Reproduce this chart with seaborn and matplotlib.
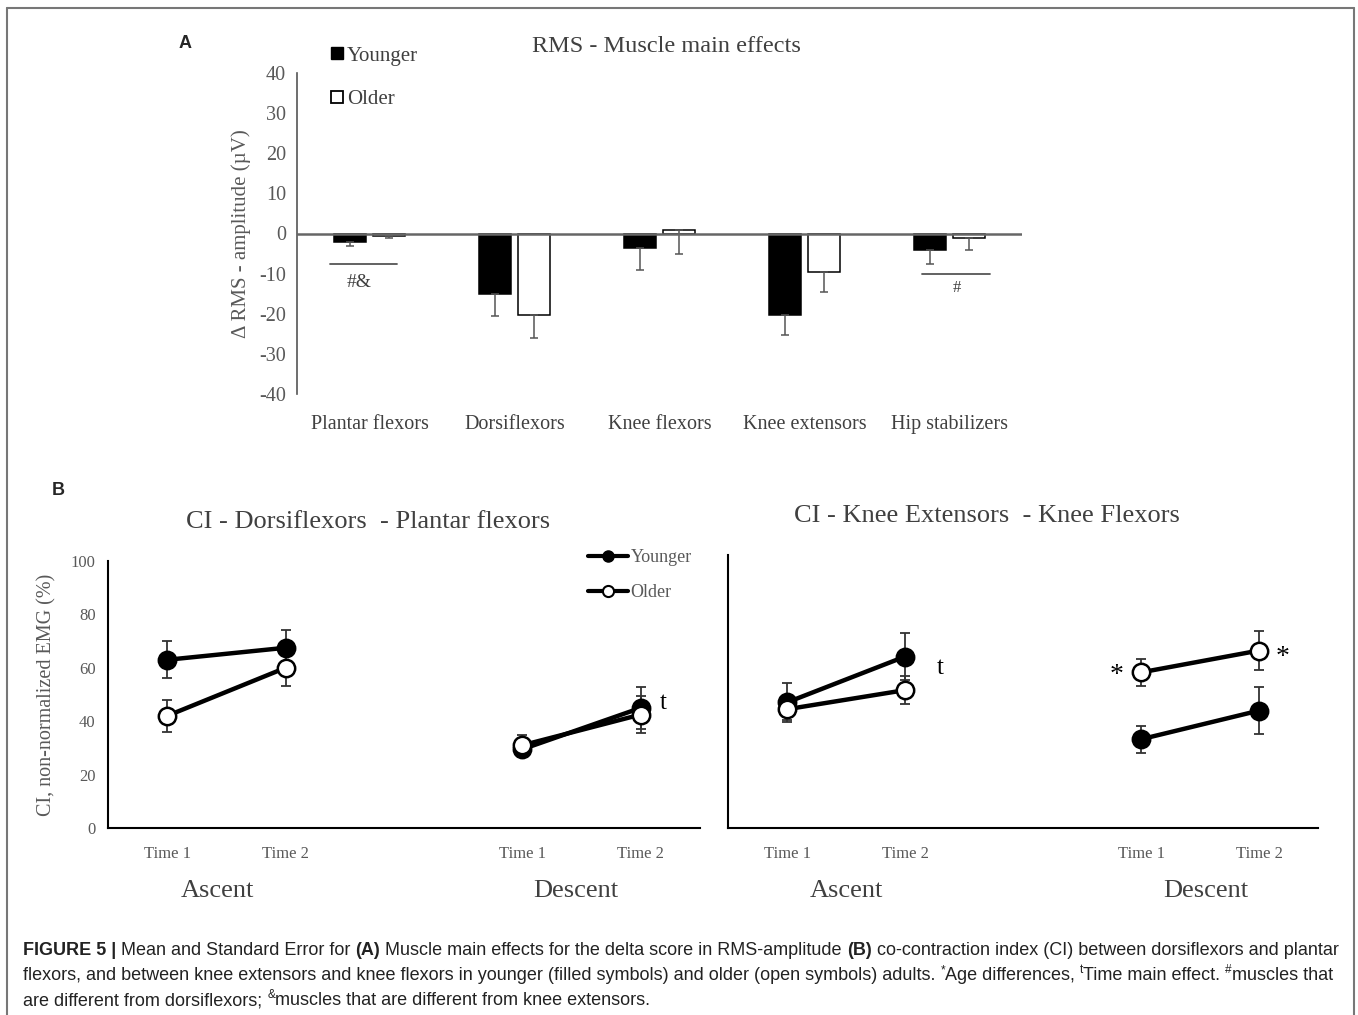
import matplotlib
matplotlib.use('Agg')
import pandas as pd
import matplotlib.pyplot as plt
import matplotlib.transforms as mtransforms
from matplotlib.lines import Line2D
import seaborn as sns

W, H = 1358, 1015

# ---- Panel A: delta RMS amplitude by muscle ----
muscles = ['Plantar flexors', 'Dorsiflexors', 'Knee flexors', 'Knee extensors', 'Hip stabilizers']
rms_younger = [-2.0, -15.0, -3.5, -20.2, -4.2]
rms_older = [-0.5, -20.2, 0.8, -9.6, -1.0]
rms_err_younger = [1.0, 5.5, 5.5, 5.0, 3.5]
rms_err_older = [0.5, 5.8, 5.8, 5.0, 3.0]

# ---- Panel B: co-contraction index (Ascent T1, T2, Descent T1, T2) ----
slot_labels = ['Time 1', 'Time 2', '', 'Time 1', 'Time 2']
phases = ['Ascent', 'Descent']
ci_dp_younger = [63.0, 67.5, 29.5, 45.0]
ci_dp_older = [42.0, 60.0, 31.0, 42.5]
ci_dp_err_younger = [7.0, 6.5, 3.0, 7.8]
ci_dp_err_older = [6.0, 7.0, 4.0, 7.0]
ci_kk_younger = [46.0, 62.8, 32.5, 43.0]
ci_kk_older = [43.5, 50.5, 57.0, 65.0]
ci_kk_err_younger = [7.0, 8.5, 5.0, 8.5]
ci_kk_err_older = [4.0, 5.0, 5.0, 7.0]

sns.set_style('white')
plt.rcParams['font.family'] = ['Liberation Serif', 'DejaVu Serif']
plt.rcParams['axes.unicode_minus'] = False

fig = plt.figure(figsize=(W / 100, H / 100), dpi=100)


def fx(x):
    return x / W


def fy(y):
    return 1 - y / H


GREY = '#595959'
DARK = '#404040'

# ---------------- Panel A ----------------
axA = fig.add_axes([fx(297), fy(394), 725 / W, 321 / H])
df_a = pd.DataFrame({
    'muscle': muscles * 2,
    'group': ['Younger'] * len(muscles) + ['Older'] * len(muscles),
    'value': rms_younger + rms_older,
})
sns.barplot(data=df_a, x='muscle', y='value', hue='group', order=muscles,
            hue_order=['Younger', 'Older'],
            palette={'Younger': 'black', 'Older': 'white'},
            edgecolor='black', linewidth=1.1, width=0.55, gap=0.2,
            errorbar=None, legend=False, ax=axA)

for cont, vals, errs in zip(axA.containers, [rms_younger, rms_older],
                            [rms_err_younger, rms_err_older]):
    xs = [b.get_x() + b.get_width() / 2 for b in cont]
    axA.errorbar(xs, vals, yerr=[errs, [0] * len(errs)], fmt='none',
                 ecolor='#555555', elinewidth=1.1, capsize=3, capthick=1.1, zorder=1)

axA.axhline(0, color='#666666', lw=1.8, zorder=3)
axA.set_xlim(-0.5, 4.5)
axA.set_ylim(-40, 40)
axA.set_yticks(range(-40, 41, 10))
for s in ['top', 'right', 'bottom']:
    axA.spines[s].set_visible(False)
axA.spines['left'].set_color('#555555')
axA.spines['left'].set_linewidth(1.2)
axA.tick_params(axis='y', direction='out', length=5, width=1.2, color='#555555',
                labelsize=14.5, labelcolor=GREY, pad=3)
axA.tick_params(axis='x', length=0, pad=15, labelsize=14.5, labelcolor=DARK)
axA.set_xlabel('')
axA.set_ylabel('Δ RMS - amplitude (µV)', fontsize=15, color=GREY, labelpad=6)

# significance bars
axA.plot([-0.27, 0.19], [-7.7, -7.7], color='#555555', lw=1.3)
axA.text(-0.07, -12.2, '#&', ha='center', va='center', fontsize=14, color=DARK)
axA.plot([3.81, 4.28], [-10.0, -10.0], color='#555555', lw=1.3)
axA.text(4.05, -13.7, '#', ha='center', va='center', fontsize=12, color=DARK)

fig.text(fx(666), fy(47), 'RMS - Muscle main effects', ha='center', va='center',
         fontsize=17.5, color=DARK)
fig.text(fx(185), fy(44), 'A', ha='center', va='center', fontsize=13,
         fontweight='bold', family='Liberation Sans')

hA = [Line2D([], [], ls='none', marker='s', markersize=9, mfc='black', mec='black'),
      Line2D([], [], ls='none', marker='s', markersize=9, mfc='white', mec='black', mew=1.3)]
fig.legend(hA, ['Younger', 'Older'], loc='upper left', bbox_to_anchor=(fx(330), fy(46)),
           frameon=False, fontsize=15, labelcolor=DARK, handlelength=0.7,
           handletextpad=0.1, labelspacing=1.15, borderpad=0, borderaxespad=0)

# ---------------- Panel B ----------------
slots = [i for i, lab in enumerate(slot_labels) if lab]
axL = fig.add_axes([fx(108), fy(828), 592 / W, 267 / H])
axR = fig.add_axes([fx(728), fy(828), 590 / W, 273 / H])

panels = [
    (axL, 'CI - Dorsiflexors  - Plantar flexors', 368, 522,
     ci_dp_younger, ci_dp_older, ci_dp_err_younger, ci_dp_err_older, [0.42, 3.45]),
    (axR, 'CI - Knee Extensors  - Knee Flexors', 987, 516,
     ci_kk_younger, ci_kk_older, ci_kk_err_younger, ci_kk_err_older, [0.5, 3.55]),
]

for ax, title, tx, ty, yv, ov, ye, oe, phase_x in panels:
    for vals, errs, fc in [(yv, ye, 'black'), (ov, oe, 'white')]:
        ax.errorbar(slots, vals, yerr=errs, fmt='none', ecolor='#333333',
                    elinewidth=1.3, capsize=3.5, capthick=1.3, zorder=1)
        for k in range(len(phases)):
            sl = slice(2 * k, 2 * k + 2)
            sns.lineplot(x=slots[sl], y=vals[sl], color='black', lw=3.2, marker='o',
                         markersize=12.5, markerfacecolor=fc, markeredgecolor='black',
                         markeredgewidth=1.8, errorbar=None, ax=ax, zorder=3)
    ax.set_xlim(-0.5, 4.5)
    ax.set_ylim(0, 100)
    ax.set_xticks([i - 0.5 for i in range(len(slot_labels) + 1)])
    ax.set_xticklabels([])
    ax.set_xticks(slots, minor=True)
    ax.set_xticklabels([slot_labels[i] for i in slots], minor=True)
    ax.set_yticks(range(0, 101, 20))
    for s in ['top', 'right']:
        ax.spines[s].set_visible(False)
    for s in ['left', 'bottom']:
        ax.spines[s].set_color('black')
        ax.spines[s].set_linewidth(1.5)
    ax.tick_params(axis='x', which='major', direction='out', length=5, width=1.5)
    ax.tick_params(axis='x', which='minor', length=0, pad=13, labelsize=12,
                   labelcolor=GREY)
    ax.tick_params(axis='y', direction='out', length=5, width=1.5, labelsize=12,
                   labelcolor=GREY, pad=4)
    fig.text(fx(tx), fy(ty), title, ha='center', va='center', fontsize=19, color=DARK)
    trans = mtransforms.blended_transform_factory(ax.transData, fig.transFigure)
    for px, ph in zip(phase_x, phases):
        ax.text(px, fy(891), ph, transform=trans, ha='center', va='center',
                fontsize=19, color=DARK)

axR.set_yticklabels([])
axL.set_ylabel('CI, non-normalized EMG (%)', fontsize=14.5, color=GREY, labelpad=10)

axL.text(4.19, 47, 't', ha='center', va='center', fontsize=18, color='black')
axR.text(1.3, 58.6, 't', ha='center', va='center', fontsize=18, color='black')
axR.text(2.79, 56.0, '*', ha='center', va='center', fontsize=20, color='black')
axR.text(4.2, 62.5, '*', ha='center', va='center', fontsize=20, color='black')

fig.text(fx(58), fy(491), 'B', ha='center', va='center', fontsize=13,
         fontweight='bold', family='Liberation Sans')

hB = [Line2D([], [], color='black', lw=3, marker='o', markersize=8, mfc='black', mec='black'),
      Line2D([], [], color='black', lw=3, marker='o', markersize=8, mfc='white', mec='black',
             mew=1.5)]
fig.legend(hB, ['Younger', 'Older'], loc='upper left', bbox_to_anchor=(fx(588), fy(549)),
           frameon=False, fontsize=13, labelcolor=GREY, handlelength=2.2,
           handletextpad=0.15, labelspacing=1.0, borderpad=0, borderaxespad=0)

# ---------------- frame ----------------
for xs, ys in [([7, 7], [8, H]), ([7, 1354], [8, 8]), ([1354, 1354], [8, H])]:
    fig.add_artist(Line2D([fx(v) for v in xs], [fy(v) for v in ys], color='#777777', lw=1.5))

# ---------------- caption ----------------
renderer = fig.canvas.get_renderer()
CAP = dict(family=['Liberation Sans', 'DejaVu Sans'], color='#222222')


def piece_kw(style, size):
    kw = dict(CAP, fontsize=size)
    if style == 'b':
        kw['fontweight'] = 'bold'
    if style == 'sup':
        kw['fontsize'] = size * 0.65
    return kw


def width_px(txt, kw):
    a = fig.text(0, 0, txt + '.', **kw)
    b = fig.text(0, 0, '.', **kw)
    w = a.get_window_extent(renderer).width - b.get_window_extent(renderer).width
    a.remove()
    b.remove()
    return w


def draw_line(pieces, x0, y0, size, draw=True):
    x = x0
    for txt, style in pieces:
        kw = piece_kw(style, size)
        dy = -size * 100 / 72 * 0.38 if style == 'sup' else 0
        if draw:
            fig.text(fx(x), fy(y0 + dy), txt, ha='left', va='baseline', **kw)
        x += width_px(txt, kw)
    return x - x0


cap1 = [('FIGURE 5 |', 'b'), (' Mean and Standard Error for ', 'n'), ('(A)', 'b'),
        (' Muscle main effects for the delta score in RMS-amplitude ', 'n'), ('(B)', 'b'),
        (' co-contraction index (CI) between dorsiflexors and plantar', 'n')]
cap2 = [('flexors, and between knee extensors and knee flexors in younger (filled symbols) '
         'and older (open symbols) adults. ', 'n'), ('*', 'sup'), ('Age differences, ', 'n'),
        ('t', 'sup'), ('Time main effect. ', 'n'), ('#', 'sup'), ('muscles that', 'n')]
cap3 = [('are different from dorsiflexors; ', 'n'), ('&', 'sup'),
        ('muscles that are different from knee extensors.', 'n')]

s0 = 12
target = 1340 - 23
size = min(s0 * target / draw_line(c, 0, 0, s0, draw=False) for c in (cap1, cap2))
for c, yb in zip((cap1, cap2, cap3), (955, 980, 1005)):
    draw_line(c, 23, yb, size)

fig.savefig('out.png', dpi=100, facecolor='white')
